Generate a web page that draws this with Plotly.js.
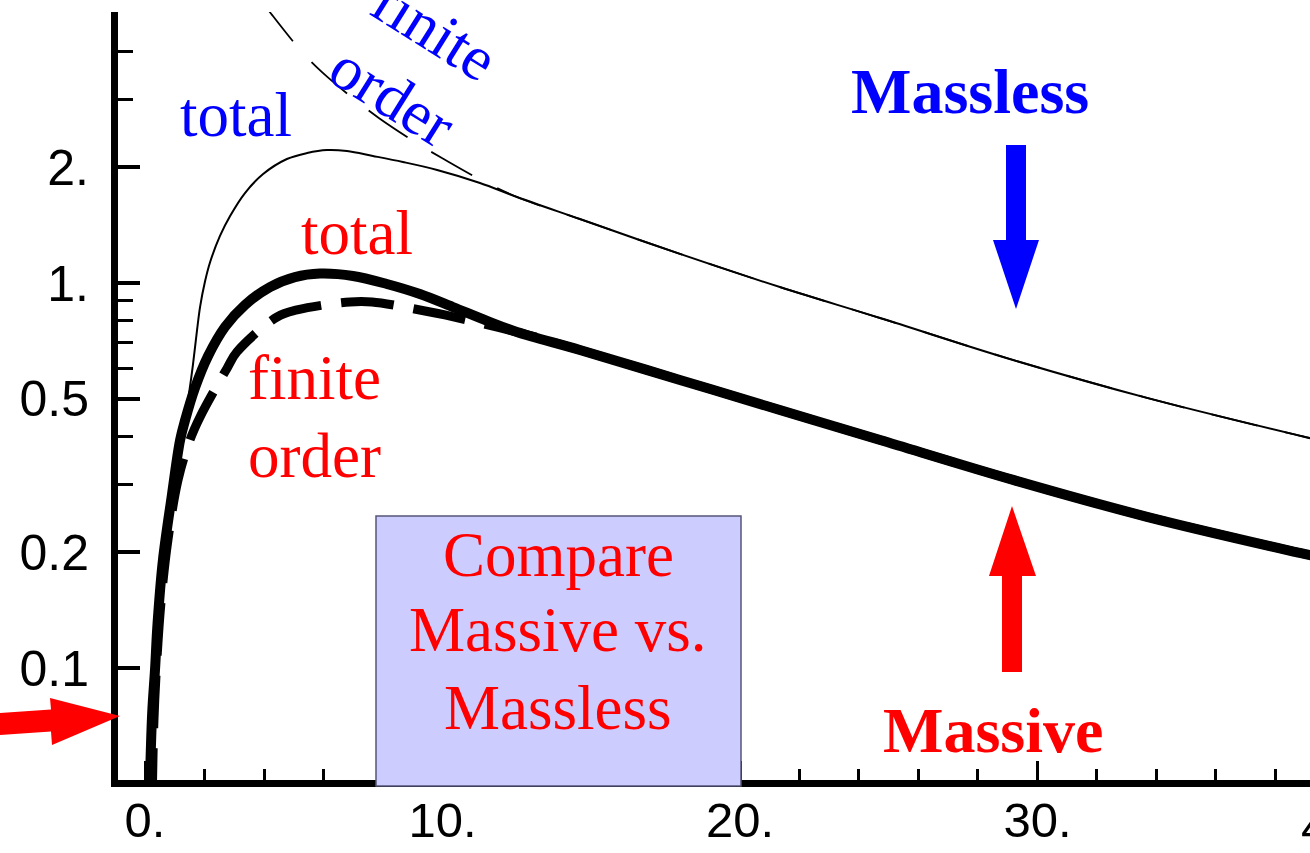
<!DOCTYPE html>
<html><head><meta charset="utf-8">
<script src="https://cdn.plot.ly/plotly-3.0.1.min.js"></script>
<style>html,body{margin:0;padding:0;background:#fff;overflow:hidden;} #chart{width:1310px;height:853px;}</style>
</head><body><div id="chart"></div>
<script>
// ---- data ----
const xMasslessTotal = [0.15, 0.24, 0.34, 0.42, 0.60, 0.90, 1.18, 1.35, 1.50, 1.61, 1.75, 1.85, 2.02, 2.19, 2.52, 2.86, 3.36, 3.97, 4.77, 5.45, 6.12, 6.79, 7.66, 8.67, 9.82, 11.26, 12.50, 14.62, 17.98, 21.34, 24.71, 29.18, 33.68, 38.89, 40.0];
const yMasslessTotal = [0.045, 0.076, 0.10, 0.13, 0.19, 0.28, 0.391, 0.441, 0.53, 0.612, 0.755, 0.866, 1.012, 1.134, 1.325, 1.493, 1.713, 1.919, 2.099, 2.176, 2.215, 2.202, 2.138, 2.062, 1.966, 1.819, 1.673, 1.466, 1.190, 0.976, 0.811, 0.631, 0.503, 0.400, 0.382];

const xMasslessFinite = [4.00, 4.27, 5.28, 5.95, 7.06, 7.87, 9.24, 9.98, 11.43, 12.61, 14.62, 17.98, 21.34, 24.71, 29.18, 33.68, 38.89, 40.0];
const yMasslessFinite = [5.30, 4.97, 3.98, 3.53, 2.99, 2.68, 2.282, 2.112, 1.829, 1.66, 1.466, 1.190, 0.976, 0.811, 0.631, 0.503, 0.400, 0.382];

const xMassiveTotal = [0.15, 0.24, 0.34, 0.42, 0.60, 0.90, 1.18, 1.35, 1.68, 2.12, 2.69, 3.36, 4.20, 5.04, 5.88, 6.99, 8.13, 9.24, 10.35, 11.50, 12.50, 14.62, 17.98, 21.34, 24.71, 29.18, 33.68, 38.82, 40.0];
const yMassiveTotal = [0.045, 0.076, 0.10, 0.13, 0.19, 0.28, 0.391, 0.441, 0.534, 0.646, 0.769, 0.877, 0.976, 1.036, 1.058, 1.043, 0.994, 0.936, 0.866, 0.797, 0.746, 0.670, 0.560, 0.468, 0.391, 0.308, 0.247, 0.199, 0.190];

const xMassiveFinite = [0.24, 0.30, 0.40, 0.54, 0.77, 1.11, 1.51, 1.85, 2.76, 3.09, 4.44, 5.11, 6.89, 7.63, 9.41, 10.08, 12.61, 14.62, 17.98, 21.34, 24.71, 29.18, 33.68, 38.82, 40.0];
const yMassiveFinite = [0.045, 0.073, 0.105, 0.149, 0.215, 0.308, 0.391, 0.449, 0.601, 0.662, 0.816, 0.851, 0.893, 0.893, 0.846, 0.826, 0.742, 0.670, 0.560, 0.468, 0.391, 0.308, 0.247, 0.199, 0.190];

const xTickVals = [0, 10, 20, 30];
const xTickText = ['0.', '10.', '20.', '30.'];
const xEdgeLabel = '40.';
const yTickVals = [0.1, 0.2, 0.5, 1, 2];
const yTickText = ['0.1', '0.2', '0.5', '1.', '2.'];
const yMinorVals = [0.3, 0.4, 0.6, 0.7, 0.8, 0.9, 3, 4];

// ---- layout geometry ----
const W = 1310, H = 853, M = {l: 118, r: 0, t: 12, b: 73};
const PW = W - M.l - M.r, PH = H - M.t - M.b;
const PX = p => (p - M.l) / PW;
const PY = p => (H - M.b - p) / PH;
function poly(pts) { return 'M ' + pts.map(p => PX(p[0]).toFixed(5) + ',' + PY(p[1]).toFixed(5)).join(' L ') + ' Z'; }

const RED = '#ff0000', BLUE = '#0000ff';
const SERIF = 'Liberation Serif, Times New Roman, serif';
const SANS = 'Liberation Sans, Arial, sans-serif';
const XR = [-0.9076, 39.16];

const traces = [
  {x: xMasslessTotal, y: yMasslessTotal, mode: 'lines', name: 'massless total',
   line: {color: '#000', width: 2, shape: 'spline', smoothing: 1}},
  {x: xMasslessFinite, y: yMasslessFinite, mode: 'lines', name: 'massless finite order',
   line: {color: '#000', width: 1.8, dash: '47px,28px', shape: 'spline', smoothing: 1}},
  {x: xMassiveFinite, y: yMassiveFinite, mode: 'lines', name: 'massive finite order',
   line: {color: '#000', width: 9, dash: '53px,20px', shape: 'spline', smoothing: 1}},
  {x: xMassiveTotal, y: yMassiveTotal, mode: 'lines', name: 'massive total',
   line: {color: '#000', width: 10, shape: 'spline', smoothing: 1}}
];

function txt(text, cx, cy, color, size, bold, angle) {
  return {xref: 'paper', yref: 'paper', x: PX(cx), y: PY(cy), xanchor: 'center', yanchor: 'middle',
    text: bold ? '<b>' + text + '</b>' : text, showarrow: false, textangle: angle || 0,
    font: {family: SERIF, size: size, color: color}};
}

// the "40." tick label sits just past the right edge; place it at x = 40 on the axis scale
const x40px = M.l + (40 - XR[0]) / (XR[1] - XR[0]) * PW;

const annotations = [
  txt('total', 236, 115, BLUE, 63),
  txt('finite', 434, 30, BLUE, 63, false, 32),
  txt('order', 392, 96, BLUE, 63, false, 32),
  txt('total', 357, 233, RED, 63),
  txt('finite', 314, 378, RED, 63),
  txt('order', 314, 456, RED, 63),
  txt('Massless', 969.5, 92, BLUE, 64, true),
  txt('Massive', 992.5, 730, RED, 64, true),
  txt('Compare', 558, 555, RED, 63),
  txt('Massive vs.', 558, 630, RED, 63),
  txt('Massless', 558, 708, RED, 63),
  {xref: 'paper', yref: 'paper', x: PX(x40px), y: PY(827), xanchor: 'center', yanchor: 'middle', text: xEdgeLabel,
   showarrow: false, font: {family: SANS, size: 49, color: '#000'}}
];

const shapes = [
  {type: 'rect', xref: 'paper', yref: 'paper', x0: PX(376), x1: PX(741), y0: PY(786), y1: PY(516),
   fillcolor: 'rgb(204,204,255)', line: {color: '#55557a', width: 1.5}, layer: 'above'},
  {type: 'path', xref: 'paper', yref: 'paper', layer: 'above', fillcolor: BLUE, line: {width: 0},
   path: poly([[1006,145],[1026,145],[1026,240],[1039,240],[1016,309],[993,240],[1006,240]])},
  {type: 'path', xref: 'paper', yref: 'paper', layer: 'above', fillcolor: RED, line: {width: 0},
   path: poly([[1002,672],[1022,672],[1022,576],[1036,576],[1012,506],[989,576],[1002,576]])},
  {type: 'path', xref: 'paper', yref: 'paper', layer: 'above', fillcolor: RED, line: {width: 0},
   path: poly([[0,713],[51,709.6],[50,698],[120,716],[52,745],[51,731.6],[0,735]])}
];

const layout = {
  width: W, height: H, margin: M, showlegend: false,
  paper_bgcolor: '#fff', plot_bgcolor: '#fff',
  xaxis: {range: XR, tickmode: 'array', tickvals: xTickVals, ticktext: xTickText,
    ticks: 'inside', ticklen: 19, tickwidth: 3, tickcolor: '#000',
    showline: true, linewidth: 7, linecolor: '#000', showgrid: false, zeroline: false,
    tickfont: {family: SANS, size: 49, color: '#000'}, ticklabelstandoff: -9,
    minor: {dtick: 2, tick0: 0, ticks: 'inside', ticklen: 11, tickwidth: 3, tickcolor: '#000', showgrid: false}},
  yaxis: {type: 'log', range: [-1.2909, 0.7039], tickmode: 'array', tickvals: yTickVals, ticktext: yTickText,
    ticks: 'inside', ticklen: 22, tickwidth: 3.5, tickcolor: '#000',
    showline: true, linewidth: 7, linecolor: '#000', showgrid: false, zeroline: false,
    tickfont: {family: SANS, size: 50, color: '#000'}, ticklabelstandoff: 12,
    minor: {tickmode: 'array', tickvals: yMinorVals, ticks: 'inside', ticklen: 15, tickwidth: 3, tickcolor: '#000', showgrid: false}},
  annotations: annotations, shapes: shapes
};

Plotly.newPlot('chart', traces, layout, {staticPlot: true, displayModeBar: false});
</script></body></html>
